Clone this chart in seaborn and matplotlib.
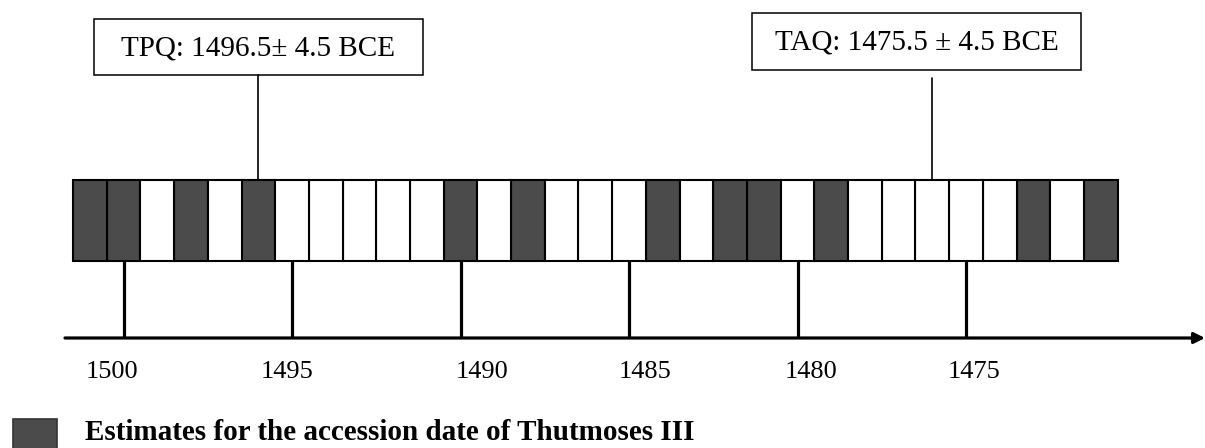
import matplotlib
matplotlib.use("Agg")
import matplotlib.pyplot as plt
import seaborn as sns
import pandas as pd
from matplotlib.patches import Rectangle

# one box per year, 1501 BCE down to 1471 BCE
years = list(range(1501, 1470, -1))
estimate_years = [1501, 1500, 1498, 1496, 1490, 1488, 1484, 1482, 1481, 1479, 1473, 1471]
tick_years = [1500, 1495, 1490, 1485, 1480, 1475]
tick_labels = ["1500", "1495", "1490", "1485", "1480", "1475"]
callout_years = [1496, 1476]
callout_texts = ["TPQ: 1496.5\u00b1 4.5 BCE", "TAQ: 1475.5 \u00b1 4.5 BCE"]
legend_text = "Estimates for the accession date of Thutmoses III"

df = pd.DataFrame({
    "year": years,
    "h": [1] * len(years),
    "kind": ["estimate" if y in estimate_years else "other" for y in years],
})

sns.set_style("white")
plt.rcParams["font.family"] = ["Liberation Serif", "DejaVu Serif"]
plt.rcParams["text.color"] = "black"

DARK = "#4b4b4b"
W, H = 1205, 448
fig = plt.figure(figsize=(W / 100, H / 100), dpi=100)

# x limits so that one year is ~33.7 px wide
px_per_year = 33.7
x_left = 1501.5 + 73 / px_per_year
x_right = 1501.5 - (W - 73) / px_per_year

# main axes in (year, pixel-y) coordinates
ax = fig.add_axes([0, 0, 1, 1])
ax.set_xlim(x_left, x_right)
ax.set_ylim(H, 0)
ax.axis("off")

# row of year boxes
box_top, box_bot = 180, 261
axb = fig.add_axes([0, (H - box_bot) / H, 1, (box_bot - box_top) / H])
sns.barplot(data=df, x="year", y="h", hue="kind", hue_order=["estimate", "other"],
            palette={"estimate": DARK, "other": "white"}, native_scale=True,
            orient="x", width=1, dodge=False, errorbar=None, legend=False,
            edgecolor="black", linewidth=1.5, ax=axb)
for p in axb.patches:
    p.set_clip_on(False)
axb.set_xlim(x_left, x_right)
axb.set_ylim(0, 1)
axb.axis("off")

# time axis with arrow
axis_y = 338
ax.annotate("", xy=(x_right, axis_y), xytext=(1501.5 + 8 / px_per_year, axis_y),
            arrowprops=dict(arrowstyle="-|>", lw=2.3, color="black",
                            mutation_scale=16, shrinkA=0, shrinkB=0))
label_nudge_px = [-12, -5, 21, 16, 13, 8]
for ty, lab, nd in zip(tick_years, tick_labels, label_nudge_px):
    ax.plot([ty, ty], [box_bot, axis_y], color="black", lw=2.3, solid_capstyle="butt")
    ax.text(ty - nd / px_per_year, 372, lab, ha="center", va="center", fontsize=19)

# callout boxes
box_w = 329 / px_per_year
tops = [19, 13]
heights = [56, 57]
offsets = [0.0, 0.47]
line_ranges = [(75, box_top), (78, box_top + 3)]
for cy, txt, top, hgt, off, (l0, l1) in zip(callout_years, callout_texts, tops, heights,
                                             offsets, line_ranges):
    cx = cy + off
    ax.add_patch(Rectangle((cx + box_w / 2, top), -box_w, hgt, facecolor="white",
                           edgecolor="black", lw=1.1))
    ax.text(cx, top + hgt / 2 + 1, txt, ha="center", va="center", fontsize=21)
    ax.plot([cy, cy], [l0, l1], color="black", lw=1.2)

# legend
sq = 44 / px_per_year
ax.add_patch(Rectangle((1501.5 + 60 / px_per_year, 419), -sq, 44, facecolor=DARK,
                       edgecolor="#333333", lw=1.2))
ax.text(1501.5 + (73 - 85) / px_per_year, 432, legend_text, ha="left", va="center",
        fontsize=21, fontweight="bold")

fig.savefig("out.png", dpi=100)
